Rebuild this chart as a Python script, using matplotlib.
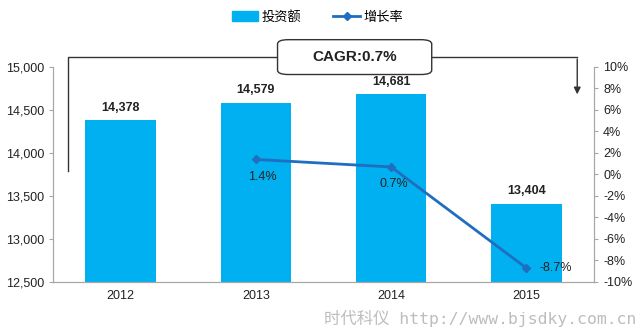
import matplotlib
matplotlib.use('Agg')
import matplotlib.pyplot as plt
from matplotlib.lines import Line2D
from matplotlib.patches import Patch, FancyBboxPatch

plt.rcParams['font.family'] = ['Liberation Sans', 'Noto Sans CJK SC']

years = ['2012', '2013', '2014', '2015']
invest = [14378, 14579, 14681, 13404]
growth = [None, 1.4, 0.7, -8.7]
growth_labels = ['', '1.4%', '0.7%', '-8.7%']
cagr_text = 'CAGR:0.7%'

bar_color = '#00B0F0'
line_color = '#1F6EBF'
axis_gray = '#A6A6A6'

fig = plt.figure(figsize=(6.39, 3.29), dpi=100)
ax = fig.add_axes([0.083, 0.1429, 0.8466, 0.6535])
ax2 = ax.twinx()

x = list(range(len(years)))
ax.bar(x, invest, width=0.52, color=bar_color, zorder=2)
for xi, v in zip(x, invest):
    ax.text(xi, v + 80, f'{v:,}', ha='center', va='bottom',
            fontsize=9, fontweight='bold', color='#222222')

ax.set_xlim(-0.5, 3.5)
ax.set_ylim(12500, 15000)
ax.set_yticks([12500, 13000, 13500, 14000, 14500, 15000])
ax.set_yticklabels([f'{t:,}' for t in ax.get_yticks()])
ax.set_xticks(x)
ax.set_xticklabels(years)

gx = [xi for xi, g in zip(x, growth) if g is not None]
gy = [g for g in growth if g is not None]
ax2.plot(gx, gy, color=line_color, lw=2, marker='D', ms=4, zorder=3)
ax2.set_ylim(-10, 10)
ax2.set_yticks(range(-10, 11, 2))
ax2.set_yticklabels([f'{t}%' for t in range(-10, 11, 2)])

offsets = {1: (0.05, -1.6, 'center'), 2: (0.02, -1.6, 'center'), 3: (0.1, 0.0, 'left')}
for xi, g, lab in zip(x, growth, growth_labels):
    if g is None:
        continue
    dx, dy, ha = offsets[xi]
    ax2.text(xi + dx, g + dy, lab, ha=ha, va='center', fontsize=9, color='#222222')

for a in (ax, ax2):
    a.spines['top'].set_visible(False)
    for s in a.spines.values():
        s.set_color(axis_gray)
    a.tick_params(axis='y', colors=axis_gray, labelcolor='#222222', labelsize=9, length=3)
ax.tick_params(axis='x', length=0, labelsize=9, labelcolor='#222222', pad=6)

# CAGR bracket
t = ax.transAxes
ax.plot([0.028, 0.028, 0.969], [0.516, 1.0465, 1.0465], color='#333333', lw=1,
        transform=t, clip_on=False, zorder=4)
ax.annotate('', xy=(0.969, 0.86), xytext=(0.969, 1.05), xycoords=t, textcoords=t,
            arrowprops=dict(arrowstyle='-|>', color='#333333', lw=1, mutation_scale=10),
            annotation_clip=False)
box = FancyBboxPatch((0.415, 0.965), 0.285, 0.162, boxstyle='round,pad=0,rounding_size=0.02',
                     transform=t, facecolor='white', edgecolor='#333333', lw=1,
                     clip_on=False, zorder=5)
ax.add_patch(box)
ax.text(0.5575, 1.046, cagr_text, transform=t, ha='center', va='center',
        fontsize=11, fontweight='bold', color='#222222', zorder=6)

handles = [Patch(color=bar_color),
           Line2D([], [], color=line_color, lw=2, marker='D', ms=4)]
fig.legend(handles, ['投资额', '增长率'], loc='center', bbox_to_anchor=(0.497, 0.948),
           ncol=2, frameon=False, handlelength=2.0, handletextpad=0.3, columnspacing=2.4,
           prop={'family': ['Noto Sans CJK SC'], 'size': 9.5})

fig.text(0.996, 0.033, '时代科仪 http://www.bjsdky.com.cn', ha='right', va='center',
         fontsize=11.8, color='#BDBDBD', family=['DejaVu Sans Mono', 'Noto Sans CJK SC'])

fig.savefig('out.png', dpi=100)
